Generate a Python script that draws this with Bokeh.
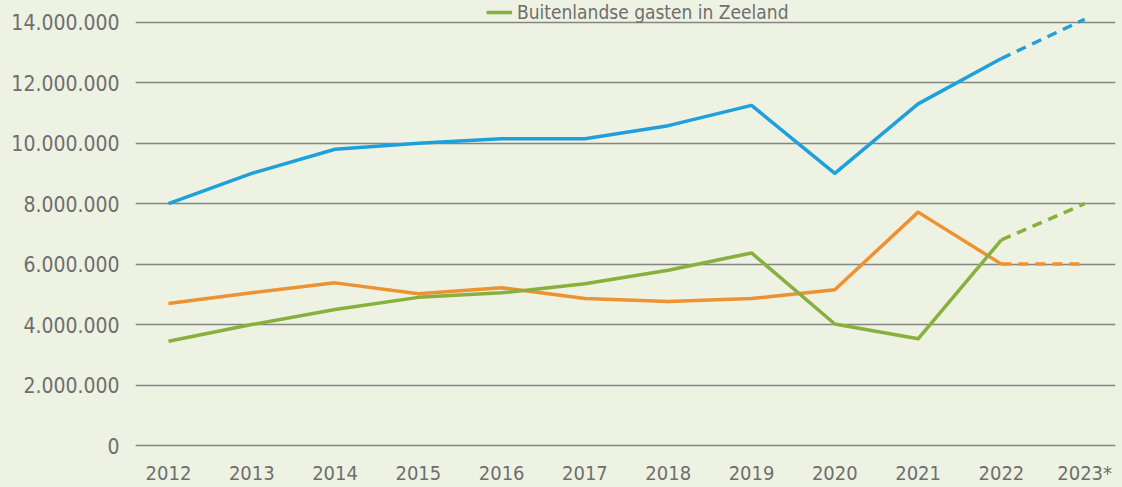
from bokeh.plotting import figure
from bokeh.models import FixedTicker, Range1d, Legend, LegendItem
from bokeh.embed import file_html
from bokeh.resources import INLINE

years = ["2012", "2013", "2014", "2015", "2016", "2017", "2018", "2019", "2020", "2021", "2022", "2023*"]
blue = [8.0e6, 9.0e6, 9.8e6, 10.0e6, 10.15e6, 10.15e6, 10.58e6, 11.25e6, 9.0e6, 11.3e6, 12.8e6, 14.1e6]
orange = [4.7e6, 5.05e6, 5.38e6, 5.02e6, 5.22e6, 4.86e6, 4.76e6, 4.86e6, 5.15e6, 7.72e6, 6.0e6, 6.0e6]
green = [3.45e6, 4.0e6, 4.5e6, 4.9e6, 5.05e6, 5.35e6, 5.8e6, 6.37e6, 4.02e6, 3.53e6, 6.8e6, 8.0e6]
y_ticks = [0, 2e6, 4e6, 6e6, 8e6, 10e6, 12e6, 14e6]
y_labels = ["0", "2.000.000", "4.000.000", "6.000.000", "8.000.000", "10.000.000", "12.000.000", "14.000.000"]
legend_text = "Buitenlandse gasten in Zeeland"

BG = "#eef2e2"
TXT = "#6e6e6e"
FONT = "DejaVu Sans Condensed, Liberation Sans Narrow, Roboto"

xs = list(range(len(years)))
W, H = 1122, 487
p = figure(width=W, height=H, output_backend="svg", toolbar_location=None,
           x_range=Range1d(-0.396, 11.37), y_range=Range1d(-0.066e6, 14.72e6),
           min_border_left=135, min_border_right=7, min_border_top=0, min_border_bottom=37)
p.background_fill_color = BG
p.border_fill_color = BG
p.outline_line_color = None

p.xgrid.grid_line_color = None
p.ygrid.grid_line_color = "#858585"
p.ygrid.grid_line_width = 1.6
p.ygrid.ticker = FixedTicker(ticks=y_ticks)

p.yaxis.ticker = FixedTicker(ticks=y_ticks)
p.yaxis.major_label_overrides = {t: l for t, l in zip(y_ticks, y_labels)}
p.xaxis.ticker = FixedTicker(ticks=xs)
p.xaxis.major_label_overrides = {i: y for i, y in zip(xs, years)}
for ax in (p.xaxis[0], p.yaxis[0]):
    ax.axis_line_color = None
    ax.major_tick_line_color = None
    ax.minor_tick_line_color = None
    ax.major_tick_out = 0
    ax.major_tick_in = 0
    ax.major_label_text_color = TXT
    ax.major_label_text_font = FONT
    ax.major_label_text_font_size = "20px"
p.yaxis.major_label_text_font_size = "21px"
p.yaxis.major_label_standoff = 16
p.xaxis.major_label_standoff = 13

series = [(blue, "#1ea0dc"), (orange, "#ee9130"), (green, "#88b03c")]
renderers = []
for vals, col in series:
    r = p.line(xs[:11], vals[:11], line_color=col, line_width=3.5, line_join="round")
    p.line(xs[10:], vals[10:], line_color=col, line_width=3.5, line_dash="10 7")
    renderers.append(r)

legend = Legend(items=[LegendItem(label=legend_text, renderers=[renderers[2]])],
                location=(351, 424), orientation="horizontal",
                background_fill_alpha=0, border_line_color=None,
                padding=0, margin=0, glyph_width=26, glyph_height=20, label_standoff=5,
                label_text_font=FONT, label_text_font_size="19px", label_text_color=TXT)
p.add_layout(legend)

html = file_html(p, INLINE)
html = html.replace("</head>", "<style>body{background:%s;}</style></head>" % BG)
open("out.html", "w").write(html)
